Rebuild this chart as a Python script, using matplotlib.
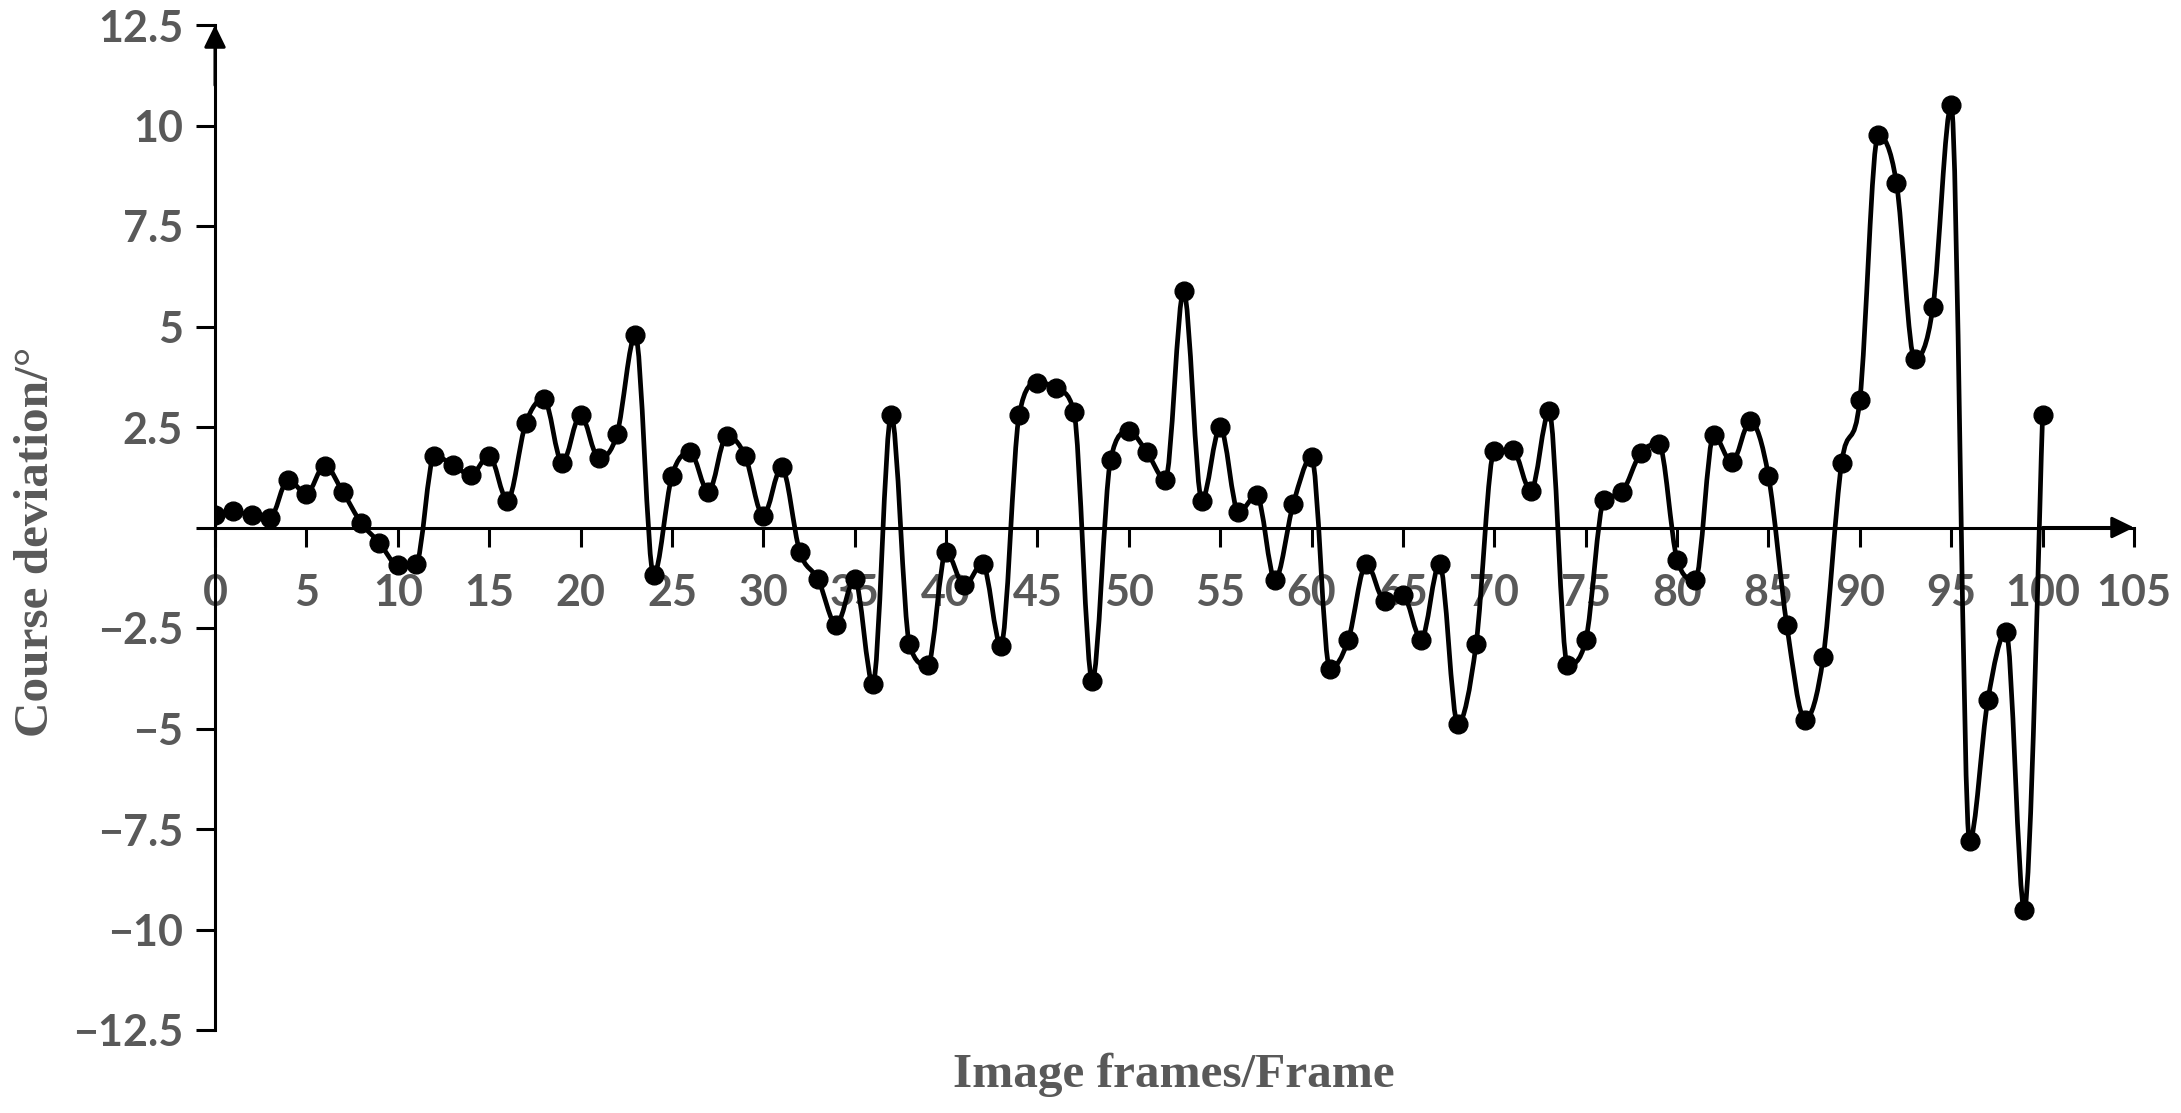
import matplotlib
matplotlib.use("Agg")
import matplotlib.pyplot as plt
import numpy as np
from matplotlib.path import Path
from matplotlib.patches import PathPatch
from matplotlib.ticker import MultipleLocator, FuncFormatter

# =========================
# Data
# =========================
frames = list(range(101))
deviation = [
    0.30, 0.40, 0.30, 0.23, 1.19, 0.84, 1.54, 0.88, 0.11, -0.38,
    -0.93, -0.90, 1.79, 1.56, 1.31, 1.79, 0.67, 2.59, 3.20, 1.60,
    2.81, 1.72, 2.33, 4.79, -1.19, 1.28, 1.87, 0.88, 2.28, 1.79,
    0.29, 1.50, -0.61, -1.29, -2.42, -1.28, -3.89, 2.80, -2.91, -3.42,
    -0.61, -1.44, -0.90, -2.94, 2.80, 3.59, 3.47, 2.87, -3.82, 1.68,
    2.39, 1.87, 1.19, 5.88, 0.67, 2.50, 0.38, 0.80, -1.30, 0.59,
    1.75, -3.52, -2.81, -0.90, -1.82, -1.69, -2.79, -0.90, -4.89, -2.91,
    1.90, 1.93, 0.90, 2.89, -3.41, -2.81, 0.69, 0.88, 1.85, 2.08,
    -0.80, -1.30, 2.29, 1.62, 2.64, 1.28, -2.42, -4.78, -3.21, 1.60,
    3.18, 9.76, 8.58, 4.19, 5.49, 10.50, -7.80, -4.30, -2.59, -9.51,
    2.80,
]

X_LABEL = "Image frames/Frame"
Y_LABEL = "Course deviation/°"

GRAY = "#595959"
TICK_FONT = ["Lato", "Open Sans", "DejaVu Sans"]
LABEL_FONT = ["Liberation Serif", "DejaVu Serif"]

# =========================
# Figure
# =========================
fig = plt.figure(figsize=(21.81, 11.13), dpi=100)
ax = fig.add_axes([215 / 2181, 83 / 1113, 1919 / 2181, 1005 / 1113])

ax.set_xlim(0, 105)
ax.set_ylim(-12.5, 12.5)

# smoothed line: cubic Bezier segments through the points,
# tangents limited so the curve does not overshoot at peaks
pts = np.column_stack([frames, deviation]).astype(float)
n = len(pts)
tang = np.zeros_like(pts)
for i in range(n):
    prev = pts[max(i - 1, 0)]
    nxt = pts[min(i + 1, n - 1)]
    m = (nxt - prev) / 6.0
    dy_prev = pts[i, 1] - prev[1]
    dy_next = nxt[1] - pts[i, 1]
    if 0 < i < n - 1 and dy_prev * dy_next <= 0:
        m[1] = 0.0
    else:
        lim = min(abs(d) for d in (dy_prev, dy_next) if d != 0) if (dy_prev or dy_next) else 0
        m[1] = np.sign(m[1]) * min(abs(m[1]), lim)
    tang[i] = m

verts = [pts[0]]
codes = [Path.MOVETO]
for i in range(n - 1):
    verts += [pts[i] + tang[i], pts[i + 1] - tang[i + 1], pts[i + 1]]
    codes += [Path.CURVE4] * 3
ax.add_patch(PathPatch(Path(verts, codes), fill=False, lw=3.4,
                       edgecolor="black", zorder=3, capstyle="round"))

ax.plot(frames, deviation, linestyle="none", marker="o", markersize=13.5,
        color="black", zorder=4)

# axes: left spine at x=0, bottom spine through y=0
for side in ("top", "right"):
    ax.spines[side].set_visible(False)
ax.spines["bottom"].set_position(("data", 0))
ax.spines["left"].set_linewidth(2.2)
ax.spines["bottom"].set_linewidth(2.2)

arrow = dict(arrowstyle="-|>,head_length=0.45,head_width=0.22",
             color="black", lw=2.2, mutation_scale=30,
             shrinkA=0, shrinkB=0)
ax.annotate("", xy=(0, 12.5), xytext=(0, 11), arrowprops=arrow,
            annotation_clip=False)
ax.annotate("", xy=(105, 0), xytext=(100, 0), arrowprops=arrow,
            annotation_clip=False)

ax.xaxis.set_major_locator(MultipleLocator(5))
ax.yaxis.set_major_locator(MultipleLocator(2.5))


def y_fmt(v, _):
    if abs(v) < 1e-9:
        return ""
    return f"{v:g}".replace("-", "\u2212")


ax.yaxis.set_major_formatter(FuncFormatter(y_fmt))
ax.xaxis.set_major_formatter(FuncFormatter(lambda v, _: f"{v:g}"))

ax.tick_params(axis="both", direction="out", length=14, width=2.2,
               colors="black", labelcolor=GRAY, labelsize=31)
ax.tick_params(axis="x", pad=19)
ax.tick_params(axis="y", pad=9)
for lab in ax.get_xticklabels() + ax.get_yticklabels():
    lab.set_family(TICK_FONT)
    lab.set_fontweight("bold")

fig.text(1174 / 2181, 1 - 1075 / 1113, X_LABEL, ha="center", va="center",
         family=LABEL_FONT, fontweight="bold", fontsize=35.5, color=GRAY)
fig.text(36 / 2181, 1 - 542 / 1113, Y_LABEL, ha="center", va="center",
         rotation=90, family=LABEL_FONT, fontweight="bold", fontsize=35.5,
         color=GRAY)

fig.savefig("out.png", dpi=100)
plt.close(fig)
